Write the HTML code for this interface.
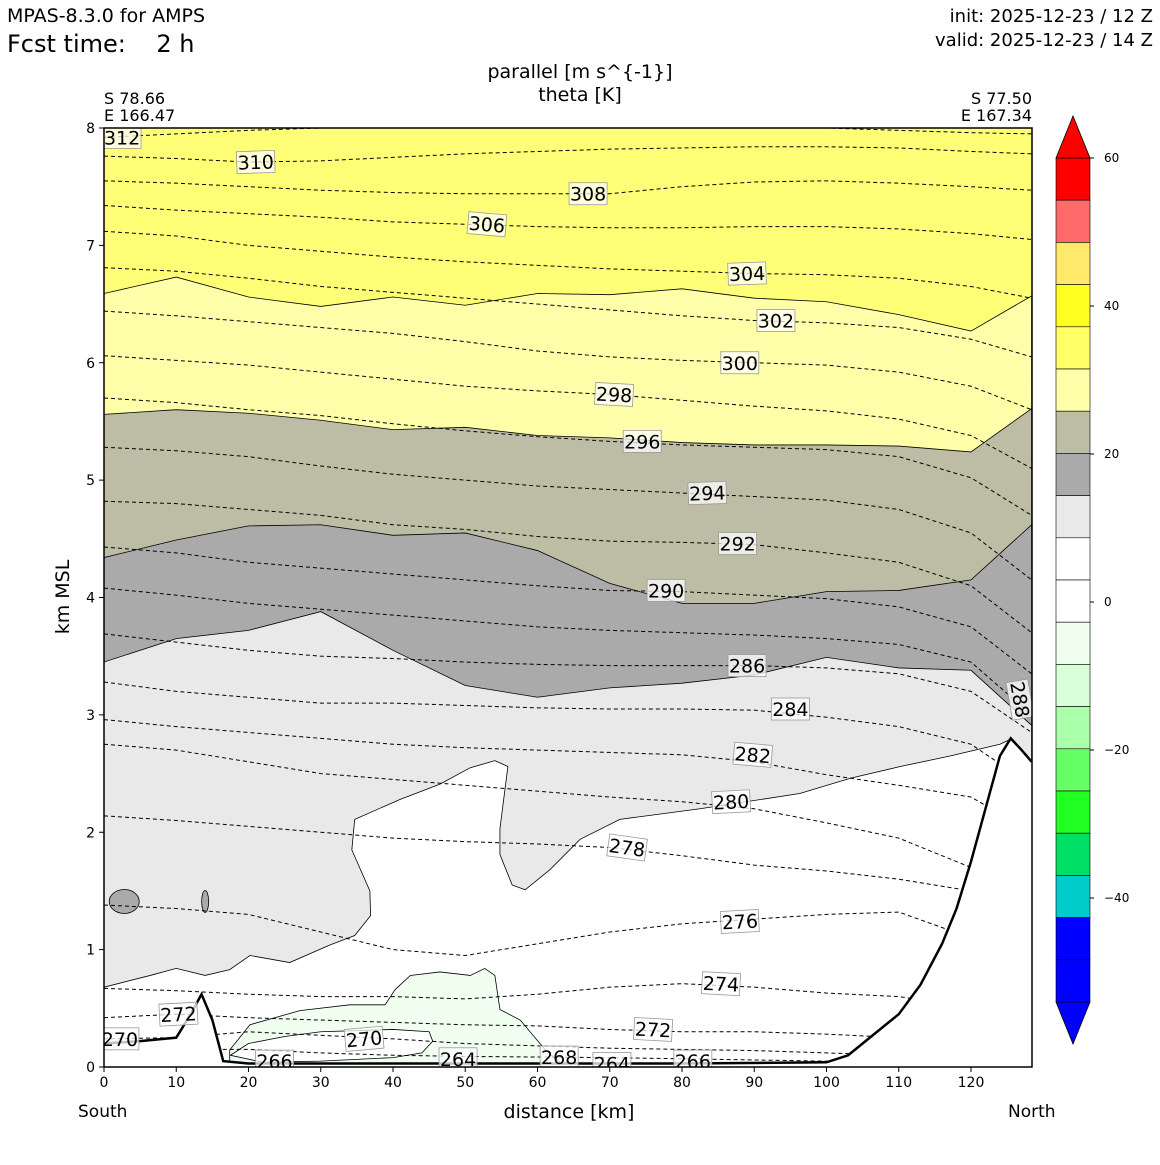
<!DOCTYPE html>
<html><head><meta charset="utf-8"><style>
body{margin:0;background:#fff;}
svg text{font-family:"DejaVu Sans","Liberation Sans",sans-serif;}
</style></head><body>
<svg id="chart" width="1160" height="1160" viewBox="0 0 1160 1160" xmlns="http://www.w3.org/2000/svg">
<rect width="1160" height="1160" fill="#fff"/>
<text x="7" y="22" font-size="19">MPAS-8.3.0 for AMPS</text>
<text x="7" y="52" font-size="24" xml:space="preserve">Fcst time:    2 h</text>
<text x="1153" y="22" font-size="18" text-anchor="end">init: 2025-12-23 / 12 Z</text>
<text x="1153" y="46" font-size="18" text-anchor="end">valid: 2025-12-23 / 14 Z</text>
<text x="580" y="78" font-size="19" text-anchor="middle">parallel [m s^{-1}]</text>
<text x="580" y="101" font-size="19" text-anchor="middle">theta [K]</text>
<text x="104" y="104" font-size="16">S 78.66</text>
<text x="104" y="121" font-size="16">E 166.47</text>
<text x="1032" y="104" font-size="16" text-anchor="end">S 77.50</text>
<text x="1032" y="121" font-size="16" text-anchor="end">E 167.34</text>
<text x="0" y="0" font-size="19" text-anchor="middle" transform="translate(69,597) rotate(-90)">km MSL</text>
<text x="569" y="1118" font-size="19" text-anchor="middle">distance [km]</text>
<text x="78" y="1117" font-size="17">South</text>
<text x="1008" y="1117" font-size="17">North</text>
<defs><clipPath id="plotclip"><rect x="104" y="128" width="928" height="939"/></clipPath></defs>
<g id="plot" clip-path="url(#plotclip)"></g>
<g id="axes"></g>
<g id="cbar"></g>
</svg>
<script>
const xs=[0,10,20,30,40,50,60,70,80,90,100,110,120,128.4];
const thetaLevels=[312,310,308,306,304,302,300,298,296,294,292,290,288,286,284,282,280,278,276,274,272,270,268];
const thetaHeights=[
[7.92,7.95,7.98,8.0,8.02,8.04,8.05,8.06,8.05,8.02,8.0,7.98,7.96,7.95],
[7.76,7.74,7.71,7.72,7.75,7.78,7.8,7.82,7.83,7.84,7.84,7.83,7.8,7.78],
[7.55,7.53,7.5,7.47,7.45,7.44,7.44,7.44,7.5,7.54,7.55,7.53,7.5,7.47],
[7.34,7.3,7.27,7.24,7.2,7.18,7.16,7.15,7.15,7.16,7.16,7.14,7.1,7.05],
[7.12,7.08,7.0,6.95,6.9,6.86,6.83,6.8,6.78,6.76,6.75,6.72,6.65,6.55],
[6.81,6.78,6.72,6.65,6.6,6.55,6.5,6.45,6.4,6.36,6.34,6.3,6.2,6.05],
[6.44,6.4,6.35,6.3,6.25,6.18,6.1,6.05,6.02,6.0,5.98,5.92,5.8,5.6],
[6.06,6.02,5.98,5.92,5.86,5.8,5.76,5.73,5.68,5.63,5.59,5.52,5.38,5.1],
[5.70,5.66,5.6,5.55,5.48,5.42,5.37,5.33,5.3,5.28,5.26,5.2,5.02,4.7],
[5.28,5.25,5.2,5.12,5.05,5.0,4.95,4.92,4.89,4.86,4.83,4.75,4.55,4.15],
[4.82,4.8,4.75,4.7,4.62,4.58,4.52,4.48,4.47,4.45,4.38,4.3,4.1,3.7],
[4.43,4.38,4.3,4.25,4.2,4.15,4.1,4.06,4.05,4.02,3.99,3.92,3.75,3.35],
[4.08,4.02,3.95,3.9,3.85,3.8,3.75,3.72,3.7,3.68,3.65,3.6,3.45,3.0],
[3.69,3.62,3.55,3.5,3.48,3.45,3.43,3.42,3.42,3.42,3.40,3.35,3.2,2.85],
[3.28,3.2,3.15,3.1,3.1,3.08,3.06,3.05,3.05,3.04,2.98,2.9,2.75,2.4],
[2.96,2.9,2.85,2.8,2.75,2.72,2.7,2.68,2.66,2.6,2.49,2.4,2.3,2.0],
[2.75,2.7,2.6,2.5,2.45,2.4,2.35,2.3,2.26,2.2,2.08,1.95,1.7,1.2],
[2.14,2.1,2.05,2.0,1.95,1.92,1.9,1.87,1.8,1.72,1.67,1.6,1.5,1.0],
[1.38,1.35,1.3,1.15,1.0,0.95,1.05,1.15,1.22,1.26,1.30,1.32,1.1,0.5],
[0.67,0.65,0.62,0.6,0.6,0.58,0.62,0.68,0.71,0.68,0.63,0.6,0.5,0.2],
[0.42,0.45,0.42,0.4,0.38,0.36,0.35,0.32,0.3,0.3,0.28,0.25,0.2,0.1],
[0.24,0.25,0.3,0.27,0.24,0.2,0.18,0.16,0.15,0.14,0.12,0.1,0.08,0.05],
[0.1,0.15,0.15,0.12,0.1,0.09,0.085,0.08,0.07,0.06,0.05,0.04,0.03,0.02]];
// filled parallel-wind band boundaries (km heights at xs)
const bandYellowTop=[6.59,6.73,6.56,6.48,6.56,6.49,6.59,6.58,6.63,6.55,6.52,6.41,6.27,6.57];
const bandLightYellow=[5.56,5.60,5.57,5.51,5.43,5.45,5.38,5.36,5.32,5.30,5.30,5.29,5.24,5.61];
const bandTan=[4.34,4.49,4.61,4.62,4.53,4.55,4.40,4.12,3.95,3.95,4.05,4.06,4.15,4.62];
const bandGray=[3.45,3.65,3.72,3.88,3.55,3.25,3.15,3.23,3.27,3.34,3.49,3.40,3.38,2.91];
const whiteX=[0,6.4,10,14,17.4,20.2,25.7,31.3,34.7,36.9,36.8,34.3,34.7,41,46.5,50.7,54.1,55.9,54.8,54.8,56.5,58.3,61.7,65.9,71.4,82.5,96.3,103.3,110.2,117.1,124,125.4,128.4,128.4,0];
const whiteY=[0.68,0.78,0.84,0.78,0.83,0.95,0.89,1.04,1.12,1.29,1.5,1.85,2.11,2.28,2.41,2.55,2.61,2.56,2.03,1.81,1.55,1.51,1.68,1.94,2.11,2.2,2.33,2.46,2.56,2.65,2.75,2.79,2.6,0,0];
const greenX=[17.4,20.2,27.1,34,38.9,40.3,42.4,46.5,50.7,52.7,54.1,54.8,57.6,61.1,63.1,63.1,17.4];
const greenY=[0.145,0.36,0.48,0.53,0.53,0.66,0.78,0.81,0.78,0.84,0.78,0.49,0.40,0.145,0.04,0,0];
const innerX=[17.5,20,25,30,40,45,45.5,44,40,30,22,17.5];
const innerY=[0.1,0.2,0.26,0.3,0.32,0.3,0.22,0.12,0.08,0.05,0.04,0.1];
const terrainX=[0,5,10,12,13.5,15,16.5,20,40,60,80,100,103,106,110,113,116,118,120,122,124,125.5,127,128.4];
const terrainH=[0.2,0.22,0.25,0.45,0.62,0.4,0.05,0.03,0.03,0.03,0.03,0.04,0.1,0.25,0.45,0.7,1.05,1.35,1.75,2.2,2.65,2.8,2.7,2.6];
const labelText=["312","310","308","306","304","302","300","298","296","294","292","290","288","286","284","282","280","278","276","274","272","272","270","270","268","266","266","264","264"];
const labelX=[2.5,21,67,53,89,93,88,70.6,74.5,83.5,87.7,77.8,126.8,89,95,89.8,86.8,72.4,88,85.4,76,10.3,36,2.2,63,23.6,81.5,49,70.3];
const labelY=[7.92,7.71,7.44,7.18,6.76,6.36,6.0,5.73,5.33,4.89,4.46,4.06,3.13,3.42,3.05,2.66,2.26,1.87,1.24,0.71,0.32,0.45,0.24,0.24,0.085,0.05,0.05,0.07,0.03];
const labelRot=[0,-2,0,5,-2,0,0,3,0,-2,0,0,80,0,0,5,-3,8,-3,3,3,-3,-5,0,0,0,0,0,0];
const xTicks=[0,10,20,30,40,50,60,70,80,90,100,110,120];
const yTicks=[0,1,2,3,4,5,6,7,8];
const cbarColors=["#ff0000","#ff6b6b","#ffe96b","#ffff22","#ffff66","#ffffaa","#bdbda6","#aaaaaa","#e9e9e9","#ffffff","#ffffff","#f0fff0","#d8ffd8","#aaffaa","#66ff66","#22ff22","#00e066","#00cccc","#0000ff","#0000ff"];
const cbarTickVals=[60,40,20,0,-20,-40];

const NS="http://www.w3.org/2000/svg";
const X0=104,X1=1032,Y0=1067,Y1=128;
const sx=k=>X0+k*7.225;
const sy=h=>Y0-(h/8)*(Y0-Y1);
function mk(tag,attrs,parent){const e=document.createElementNS(NS,tag);for(const k in attrs)e.setAttribute(k,attrs[k]);parent.appendChild(e);return e;}
const plot=document.getElementById('plot');
function bandPath(arr){let d='M'+sx(xs[0])+','+sy(arr[0]);for(let i=1;i<xs.length;i++)d+='L'+sx(xs[i])+','+sy(arr[i]);d+='L'+X1+','+Y0+'L'+X0+','+Y0+'Z';return d;}
function polyPath(px,py){return px.map((v,i)=>(i?'L':'M')+sx(v)+','+sy(py[i])).join('')+'Z';}

let e=mk('rect',{x:X0,y:Y1,width:X1-X0,height:Y0-Y1,fill:'#ffff77'},plot);

const bands=[[bandYellowTop,'#ffffaa','band-light-yellow'],[bandLightYellow,'#bdbda6','band-tan'],[bandTan,'#aaaaaa','band-gray'],[bandGray,'#e9e9e9','band-light-gray']];
for(const [arr,col,name] of bands){
  e=mk('path',{d:bandPath(arr),fill:col,stroke:'#000','stroke-width':0.8},plot);
  
  
}
e=mk('path',{d:polyPath(whiteX,whiteY),fill:'#fff',stroke:'#000','stroke-width':0.8},plot);

e=mk('path',{d:polyPath(greenX,greenY),fill:'#f0fff0',stroke:'#000','stroke-width':0.8},plot);

e=mk('path',{d:polyPath(innerX,innerY),fill:'#fff',stroke:'#000','stroke-width':0.8},plot);

e=mk('ellipse',{cx:sx(2.8),cy:sy(1.41),rx:15,ry:12,fill:'#aaaaaa',stroke:'#000','stroke-width':0.8},plot);

e=mk('ellipse',{cx:sx(14),cy:sy(1.41),rx:3.5,ry:11,fill:'#aaaaaa',stroke:'#000','stroke-width':0.8},plot);


// theta contours
thetaLevels.forEach((lv,j)=>{
  const pts=xs.map((x,i)=>sx(x)+','+sy(thetaHeights[j][i])).join(' ');
  const l=mk('polyline',{points:pts,fill:'none',stroke:'#000','stroke-width':1,'stroke-dasharray':'4,3'},plot);
  
  
});
// terrain
let td='M'+sx(terrainX[0])+','+sy(terrainH[0]);
for(let i=1;i<terrainX.length;i++)td+='L'+sx(terrainX[i])+','+sy(terrainH[i]);
e=mk('path',{d:td+'L'+X1+','+Y0+'L'+X0+','+Y0+'Z',fill:'#fff'},plot);

e=mk('path',{d:td,fill:'none',stroke:'#000','stroke-width':2.5},plot);

// labels
labelText.forEach((t,i)=>{
  const g=mk('g',{transform:`translate(${sx(labelX[i])},${sy(labelY[i])}) rotate(${labelRot[i]})`},plot);
  
  
  mk('rect',{x:-19,y:-11,width:38,height:22,fill:'rgba(255,255,255,0.75)',stroke:'#999','stroke-width':0.8},g);
  const tx=mk('text',{x:0,y:7,'font-size':19,'text-anchor':'middle'},g);tx.textContent=t;
});
// axes
const ax=document.getElementById('axes');
e=mk('rect',{x:X0,y:Y1,width:X1-X0,height:Y0-Y1,fill:'none',stroke:'#000','stroke-width':1.5},ax);

xTicks.forEach(v=>{
  mk('line',{x1:sx(v),x2:sx(v),y1:Y0,y2:Y0+5,stroke:'#000'},ax);
  const t=mk('text',{x:sx(v),y:Y0+20,'font-size':14,'text-anchor':'middle'},ax);t.textContent=v;
  
});
yTicks.forEach(v=>{
  mk('line',{x1:X0-5,x2:X0,y1:sy(v),y2:sy(v),stroke:'#000'},ax);
  const t=mk('text',{x:X0-9,y:sy(v)+5,'font-size':14,'text-anchor':'end'},ax);t.textContent=v;
  
});
// colorbar
const cb=document.getElementById('cbar');
const CX=1056,CW=34,CT=158,CB=1002,bh=(CB-CT)/cbarColors.length;
cbarColors.forEach((c,i)=>{
  const r=mk('rect',{x:CX,y:CT+i*bh,width:CW,height:bh,fill:c,stroke:'#000','stroke-width':0.6},cb);
  
});
e=mk('polygon',{points:`${CX},${CT} ${CX+CW/2},116 ${CX+CW},${CT}`,fill:'#ff0000',stroke:'#000','stroke-width':0.8},cb);

e=mk('polygon',{points:`${CX},${CB} ${CX+CW/2},1044 ${CX+CW},${CB}`,fill:'#0000ff',stroke:'#000','stroke-width':0.8},cb);

const cy=v=>602-v*7.4;
cbarTickVals.forEach(v=>{
  mk('line',{x1:CX+CW,x2:CX+CW+4,y1:cy(v),y2:cy(v),stroke:'#000'},cb);
  const t=mk('text',{x:CX+CW+14,y:cy(v)+4,'font-size':12},cb);t.textContent=v<0?'\u2212'+(-v):v;
  
});
</script>
</body></html>
